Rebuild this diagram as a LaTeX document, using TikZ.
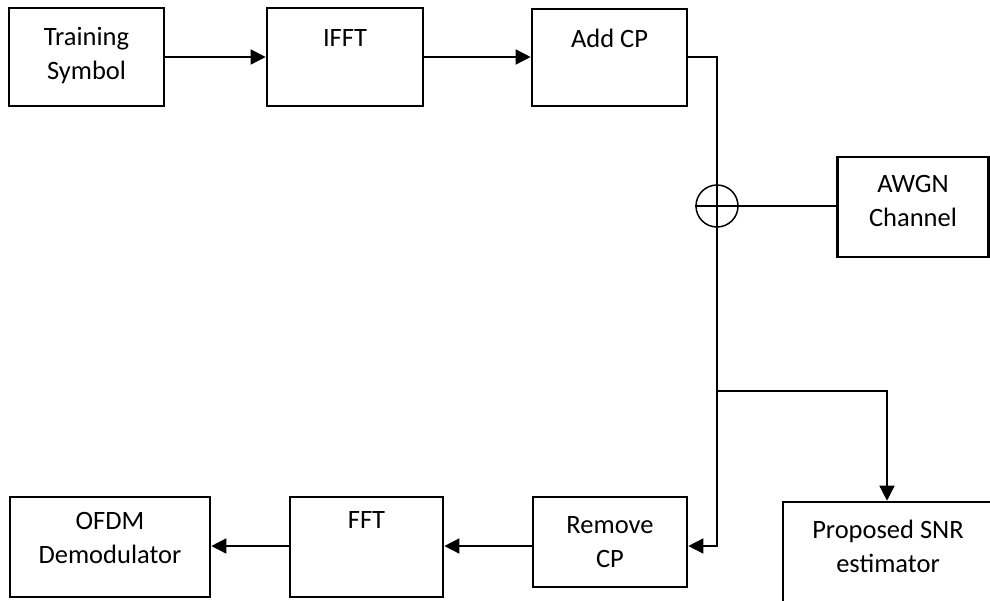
\documentclass[tikz,border=0pt]{standalone}
\usepackage{fontspec}
\setmainfont{Carlito}
\usetikzlibrary{arrows.meta}
\begin{document}
\begin{tikzpicture}[x=1pt,y=-1pt,
  blk/.style={draw,line width=2.6pt,inner sep=0pt},
  lbl/.style={align=center,font=\fontsize{26.5}{34}\selectfont,inner sep=0pt},
  conn/.style={line width=1.5pt},
  arr/.style={conn,-{Triangle[length=15pt,width=15pt]}}]
\clip (0,0) rectangle (990,600);
% boxes
\node[blk,minimum width=155pt,minimum height=98pt] (ts) at (86.5,57) {};
\node[blk,minimum width=156pt,minimum height=98pt] (ifft) at (345,57) {};
\node[blk,minimum width=155pt,minimum height=97pt] (acp) at (609.5,57.5) {};
\node[blk,minimum width=151pt,minimum height=100pt] (awgn) at (913,207) {};
\node[blk,minimum width=154pt,minimum height=90pt] (rcp) at (610,542) {};
\node[blk,minimum width=153pt,minimum height=100pt] (fft) at (366.5,547) {};
\node[blk,minimum width=200pt,minimum height=100pt] (ofdm) at (110,547) {};
\node[blk,minimum width=210pt,minimum height=100pt] (snr) at (888,552) {};
% texts
\node[lbl] (tsT) at (86.5,55.5) {Training\\Symbol};
\node[lbl] (ifftT) at (345,38) {IFFT};
\node[lbl] (acpT) at (609.5,38) {Add CP};
\node[lbl] (awgnT) at (913,201) {AWGN\\Channel};
\node[lbl] (rcpT) at (610,542) {Remove\\CP};
\node[lbl] (fftT) at (366.5,520) {FFT};
\node[lbl] (ofdmT) at (110,537.5) {OFDM\\Demodulator};
\node[lbl] (snrT) at (888,546.5) {Proposed SNR\\estimator};
% summing junction
\node[draw,circle,line width=1.5pt,minimum size=42pt,inner sep=0pt] (sum) at (717,206) {};
\draw[conn] (sum.west) -- (sum.east);
\coordinate (c1) at (717,57);
\coordinate (br) at (717,391);
\coordinate (c2) at (717,546);
\coordinate (c3) at (887,391);
% connectors
\draw[arr] (ts.east |- 0,57) -- (ifft.west |- 0,57);
\draw[arr] (ifft.east |- 0,57) -- (acp.west |- 0,57);
\draw[conn] (acp.east |- 0,57) -- (c1) -- (sum.north);
\draw[conn] (sum.north) -- (sum.south);
\draw[conn] (sum.east) -- (awgn.west |- sum.east);
\draw[arr] (sum.south) -- (c2) -- (rcp.east |- c2);
\draw[arr] (br) -- (c3) -- (snr.north -| c3);
\draw[arr] (rcp.west |- 0,546) -- (fft.east |- 0,546);
\draw[arr] (fft.west |- 0,546) -- (ofdm.east |- 0,546);
\end{tikzpicture}
\end{document}
